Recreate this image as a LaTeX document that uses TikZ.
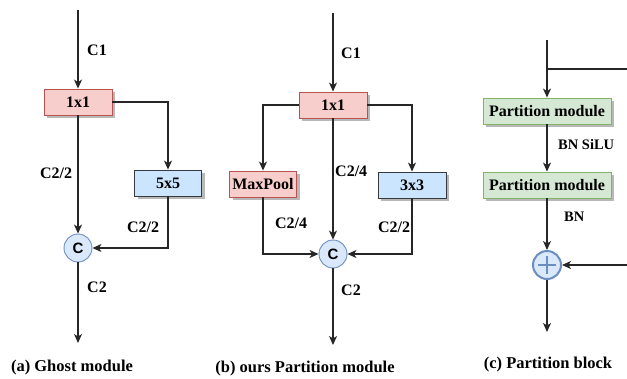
\documentclass[tikz,border=0pt]{standalone}
\usepackage{fontspec}
\setmainfont{Liberation Serif}
\newfontfamily\sansbold{Liberation Sans}
\usetikzlibrary{arrows.meta,shadows,calc}
\definecolor{pinkfill}{HTML}{F8CECC}
\definecolor{pinkline}{HTML}{B85450}
\definecolor{bluefill}{HTML}{CCE5FF}
\definecolor{blueline}{HTML}{36393D}
\definecolor{greenfill}{HTML}{D5E8D4}
\definecolor{greenline}{HTML}{82B366}
\definecolor{catfill}{HTML}{DAE8FC}
\definecolor{catline}{HTML}{6C8EBF}
\tikzset{
  x=1pt, y=-1pt,
  every node/.style={font=\bfseries},
  flow/.style={line width=1.1pt, draw=black!85, -{Stealth[length=9pt,width=8pt,inset=2.5pt]}},
  plainline/.style={line width=1.1pt, draw=black!85},
  opbox/.style={draw, line width=0.9pt, minimum height=26pt, inner sep=0pt,
    font=\fontsize{16}{17}\selectfont\bfseries,
    drop shadow={shadow xshift=3pt, shadow yshift=-3pt, fill=black!28, opacity=1}},
  pinkbox/.style={opbox, fill=pinkfill, draw=pinkline},
  bluebox/.style={opbox, fill=bluefill, draw=blueline},
  greenbox/.style={opbox, fill=greenfill, draw=greenline, minimum width=128pt},
  catnode/.style={circle, draw=catline, fill=catfill, line width=0.9pt, minimum size=28pt, inner sep=0pt,
    font=\sansbold\fontsize{15}{15}\selectfont\bfseries},
  addnode/.style={circle, draw=catline, fill=catfill, line width=2pt, minimum size=28pt, inner sep=0pt},
  lbl/.style={font=\fontsize{16}{17}\selectfont\bfseries, inner sep=0pt},
  smalllbl/.style={font=\fontsize{14.5}{15}\selectfont\bfseries, inner sep=0pt},
  caption/.style={font=\fontsize{16.5}{17}\selectfont\bfseries, inner sep=0pt}
}
\begin{document}
\begin{tikzpicture}
\useasboundingbox[fill=white] (0,0) rectangle (627,378);

% ---------- (a) Ghost module ----------
\coordinate (atop) at (78,10);
\node[pinkbox, minimum width=68pt] (a1) at (78,102) {1x1};
\node[bluebox, minimum width=67pt] (a5) at (168,183) {5x5};
\node[catnode] (ac) at (78,248) {C};
\coordinate (aend) at (78,343);
\draw[flow] (atop) -- (a1);
\draw[flow] (a1.east) -| (a5.north);
\draw[flow] (a1) -- (ac);
\draw[flow] (a5.south) |- (ac.east);
\draw[flow] (ac) -- (aend);
\node[lbl, anchor=west] (aC1) at (87,50) {C1};
\node[lbl] (ah1) at (56,173) {C2/2};
\node[lbl] (ah2) at (143,227) {C2/2};
\node[lbl, anchor=west] (aC2) at (87,287) {C2};
\node[caption] (acap) at (72,368) {(a) Ghost module};

% ---------- (b) Partition module ----------
\coordinate (btop) at (333,13);
\node[pinkbox, minimum width=68pt] (b1) at (333,105) {1x1};
\node[pinkbox, minimum width=67pt] (bmp) at (263,184) {MaxPool};
\node[bluebox, minimum width=68pt] (b3) at (412,185) {3x3};
\node[catnode] (bc) at (333,254) {C};
\coordinate (bend) at (333,345);
\draw[flow] (btop) -- (b1);
\draw[flow] (b1.west) -| (bmp.north);
\draw[flow] (b1.east) -| (b3.north);
\draw[flow] (b1) -- (bc);
\draw[flow] (bmp.south) |- (bc.west);
\draw[flow] (b3.south) |- (bc.east);
\draw[flow] (bc) -- (bend);
\node[lbl, anchor=west] (bC1) at (341,53) {C1};
\node[lbl, anchor=west] (bq1) at (335,171) {C2/4};
\node[lbl] (bq2) at (291,223) {C2/4};
\node[lbl] (bh) at (394,227) {C2/2};
\node[lbl, anchor=west] (bC2) at (341,290) {C2};
\node[caption] (bcap) at (305,369) {(b) ours Partition module};

% ---------- (c) Partition block ----------
\coordinate (ctop) at (547,40);
\coordinate (csplit) at (547,69);
\coordinate (cright) at (627,69);
\node[greenbox] (p1) at (547,111) {Partition module};
\node[greenbox] (p2) at (547,185) {Partition module};
\node[addnode] (cadd) at (547,265) {};
\draw[line width=2pt, catline] ($(cadd.center)+(-9,0)$) -- ($(cadd.center)+(9,0)$)
  ($(cadd.center)+(0,-9)$) -- ($(cadd.center)+(0,9)$);
\coordinate (cskip) at (627,265);
\coordinate (cend) at (547,332);
\draw[flow] (ctop) -- (p1);
\draw[plainline] (csplit) -- (cright);
\draw[flow] (p1) -- (p2);
\draw[flow] (p2) -- (cadd);
\draw[flow] (cskip) -- (cadd);
\draw[flow] (cadd) -- (cend);
\node[smalllbl, anchor=west] (bnsilu) at (558,145) {BN SiLU};
\node[smalllbl, anchor=west] (bn) at (564,217) {BN};
\node[caption] (ccap) at (548,365) {(c) Partition block};
\end{tikzpicture}
\end{document}
